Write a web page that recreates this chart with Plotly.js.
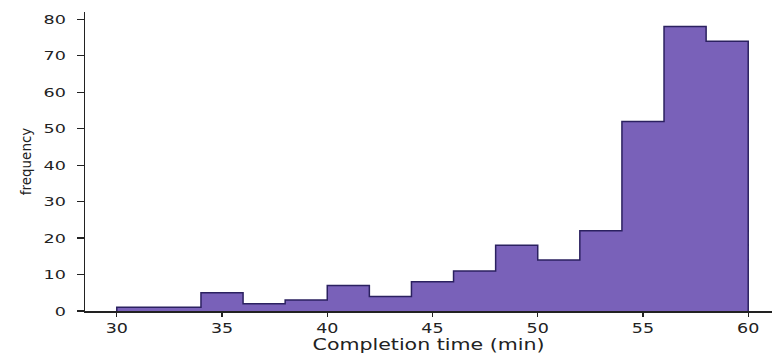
<!DOCTYPE html>
<html>
<head>
<meta charset="utf-8">
<script src="https://cdn.plot.ly/plotly-3.0.1.min.js"></script>
<style>
  html, body { margin: 0; padding: 0; background: #fff; }
  #chart { width: 772px; height: 354px; }
</style>
</head>
<body>
<div id="chart"></div>
<script>
// Histogram bin edges (minutes) and counts per bin
const binEdges = [30, 32, 34, 36, 38, 40, 42, 44, 46, 48, 50, 52, 54, 56, 58, 60];
const counts   = [1, 1, 5, 2, 3, 7, 4, 8, 11, 18, 14, 22, 52, 78, 74];
const xTicks = [30, 35, 40, 45, 50, 55, 60];
const yTicks = [0, 10, 20, 30, 40, 50, 60, 70, 80];

// Build step outline from edges and counts
const sx = [binEdges[0]];
const sy = [0];
for (let i = 0; i < counts.length; i++) {
  sx.push(binEdges[i]);
  sy.push(counts[i]);
}
sx.push(binEdges[binEdges.length - 1]);
sy.push(counts[counts.length - 1]);
sx.push(binEdges[binEdges.length - 1]);
sy.push(0);

const trace = {
  type: 'scatter',
  mode: 'lines',
  x: sx,
  y: sy,
  line: { shape: 'hv', color: '#2b2160', width: 1.5 },
  fill: 'tozeroy',
  fillcolor: '#7961b9',
  hoverinfo: 'skip',
  showlegend: false
};

const fam = 'DejaVu Sans, Verdana, sans-serif';
const txt = '#222';

const layout = {
  width: 772,
  height: 354,
  margin: { l: 85, r: 0, t: 12, b: 43, pad: 0 },
  paper_bgcolor: '#fff',
  plot_bgcolor: '#fff',
  showlegend: false,
  font: { family: fam, color: txt },
  xaxis: {
    range: [28.49, 61.13],
    tickmode: 'array',
    tickvals: xTicks,
    ticktext: xTicks.map(String),
    ticks: 'outside',
    ticklen: 4,
    tickwidth: 1.2,
    tickcolor: txt,
    ticklabelstandoff: 0,
    showline: true,
    linecolor: txt,
    linewidth: 1.5,
    showgrid: false,
    zeroline: false,
    tickfont: { family: fam, size: 14, color: txt },
    title: { text: 'Completion time (min)', font: { family: fam, size: 15, color: txt }, standoff: 6 },
    automargin: false
  },
  yaxis: {
    range: [0, 82],
    tickmode: 'array',
    tickvals: yTicks,
    ticktext: yTicks.map(String),
    ticks: 'outside',
    ticklen: 7,
    tickwidth: 1.2,
    tickcolor: txt,
    ticklabelstandoff: 8,
    showline: true,
    linecolor: txt,
    linewidth: 1.5,
    showgrid: false,
    zeroline: false,
    tickfont: { family: fam, size: 13, color: txt },
    title: { text: 'frequency', font: { family: fam, size: 13.5, color: txt }, standoff: 14 },
    automargin: false
  }
};

// widen text horizontally about its anchor to match the reference's wide lettering
function widen(gd, selector, s) {
  gd.querySelectorAll(selector).forEach(function (el) {
    const x = parseFloat(el.getAttribute('x')) || 0;
    const t = el.getAttribute('transform') || '';
    el.setAttribute('transform', t + ' translate(' + x + ',0) scale(' + s + ',1) translate(' + (-x) + ',0)');
  });
}

Plotly.newPlot('chart', [trace], layout, { staticPlot: true, displayModeBar: false }).then(function (gd) {
  widen(gd, '.xtick text', 1.25);
  widen(gd, '.ytick text', 1.35);
  widen(gd, '.g-xtitle text', 1.37);
});
</script>
</body>
</html>
